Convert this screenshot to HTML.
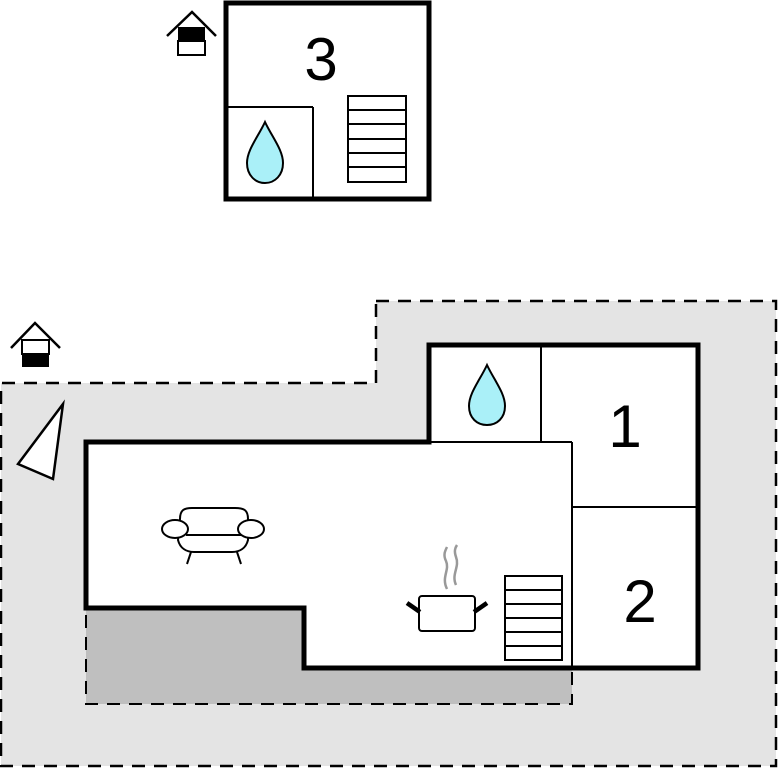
<!DOCTYPE html>
<html><head><style>html,body{margin:0;padding:0;background:#fff}svg{display:block}</style></head><body>
<svg width="778" height="768" viewBox="0 0 778 768" xmlns="http://www.w3.org/2000/svg">
<!-- terrace -->
<polygon points="376,301 776,301 776,766 1,766 1,383 376,383" fill="#e4e4e4" stroke="#000" stroke-width="2.5" stroke-dasharray="13,9"/>
<polygon points="86,608 304,608 304,668 572,668 572,704 86,704" fill="#bfbfbf" stroke="#000" stroke-width="2" stroke-dasharray="13,9"/>
<!-- main building -->
<polygon points="86,442 429,442 429,345 698,345 698,668 304,668 304,608 86,608" fill="#fff" stroke="#000" stroke-width="5"/>
<g stroke="#000" stroke-width="2" fill="none">
<line x1="541" y1="345" x2="541" y2="442"/>
<line x1="429" y1="442" x2="572" y2="442"/>
<line x1="572" y1="442" x2="572" y2="668"/>
<line x1="572" y1="507" x2="698" y2="507"/>
</g>
<text x="625" y="447" font-family="Liberation Sans, sans-serif" font-size="60" text-anchor="middle">1</text>
<text x="640" y="622" font-family="Liberation Sans, sans-serif" font-size="60" text-anchor="middle">2</text>
<!-- drop main -->
<path d="M487,365 C480,380 469,393 469,406 C469,418 477,425 487,425 C497,425 505,418 505,406 C505,393 494,380 487,365 Z" fill="#aaf0f8" stroke="#000" stroke-width="2"/>
<!-- stairs main -->
<g stroke="#000" stroke-width="2" fill="#fff">
<rect x="505" y="576" width="57" height="84"/>
<line x1="505" y1="590" x2="562" y2="590"/><line x1="505" y1="604" x2="562" y2="604"/><line x1="505" y1="618" x2="562" y2="618"/><line x1="505" y1="632" x2="562" y2="632"/><line x1="505" y1="646" x2="562" y2="646"/>
</g>
<!-- sofa -->
<g stroke="#000" stroke-width="2" fill="#fff">
<path d="M180,519 C180,510 184,508 192,508 L235,508 C244,508 248,510 248,519 L248,540 C246,548 240,552 232,552 L194,552 C186,552 180,548 178,540 Z"/>
<line x1="186" y1="535" x2="242" y2="535"/>
<ellipse cx="175" cy="529" rx="13" ry="9"/>
<ellipse cx="251" cy="529" rx="13" ry="9"/>
<line x1="191" y1="552" x2="187" y2="564"/><line x1="237" y1="552" x2="241" y2="564"/>
</g>
<!-- pot -->
<g>
<path d="M447,589 C441,577 450,570 446,561 C443,555 445,551 447,547 M456,585 C451,574 460,567 456,557 C454,551 455,548 457,545" stroke="#999" stroke-width="2.5" fill="none"/>
<rect x="419" y="596" width="56" height="35" rx="3" fill="#fff" stroke="#000" stroke-width="2"/>
<line x1="407" y1="603" x2="420" y2="612" stroke="#000" stroke-width="4.5"/>
<line x1="474" y1="612" x2="487" y2="603" stroke="#000" stroke-width="4.5"/>
</g>
<!-- compass -->
<polygon points="18,464 63,404 53,479" fill="#fff" stroke="#000" stroke-width="2.5"/>
<!-- house icon lower -->
<polyline points="11,348 35,323 60,348" fill="none" stroke="#000" stroke-width="2.5"/>
<rect x="22" y="340" width="27" height="14" fill="#fff" stroke="#000" stroke-width="2"/>
<rect x="22" y="354" width="27" height="13" fill="#000"/>
<!-- house icon upper -->
<polyline points="167,36 192,12 216,36" fill="none" stroke="#000" stroke-width="2.5"/>
<rect x="178" y="27" width="27" height="14" fill="#000"/>
<rect x="178" y="41" width="27" height="14" fill="#fff" stroke="#000" stroke-width="2"/>
<!-- top building -->
<rect x="226" y="3" width="203" height="196" fill="#fff" stroke="#000" stroke-width="5"/>
<g stroke="#000" stroke-width="2" fill="none">
<line x1="228" y1="107" x2="313" y2="107"/>
<line x1="313" y1="107" x2="313" y2="198"/>
</g>
<text x="321" y="80" font-family="Liberation Sans, sans-serif" font-size="60" text-anchor="middle">3</text>
<path d="M265,122 C258,137 247,150 247,163 C247,175 255,183 265,183 C275,183 283,175 283,163 C283,150 272,137 265,122 Z" fill="#aaf0f8" stroke="#000" stroke-width="2"/>
<g stroke="#000" stroke-width="2" fill="#fff">
<rect x="348" y="96" width="58" height="86"/>
<line x1="348" y1="110" x2="406" y2="110"/><line x1="348" y1="124" x2="406" y2="124"/><line x1="348" y1="139" x2="406" y2="139"/><line x1="348" y1="153" x2="406" y2="153"/><line x1="348" y1="167" x2="406" y2="167"/>
</g>
</svg>
</body></html>
